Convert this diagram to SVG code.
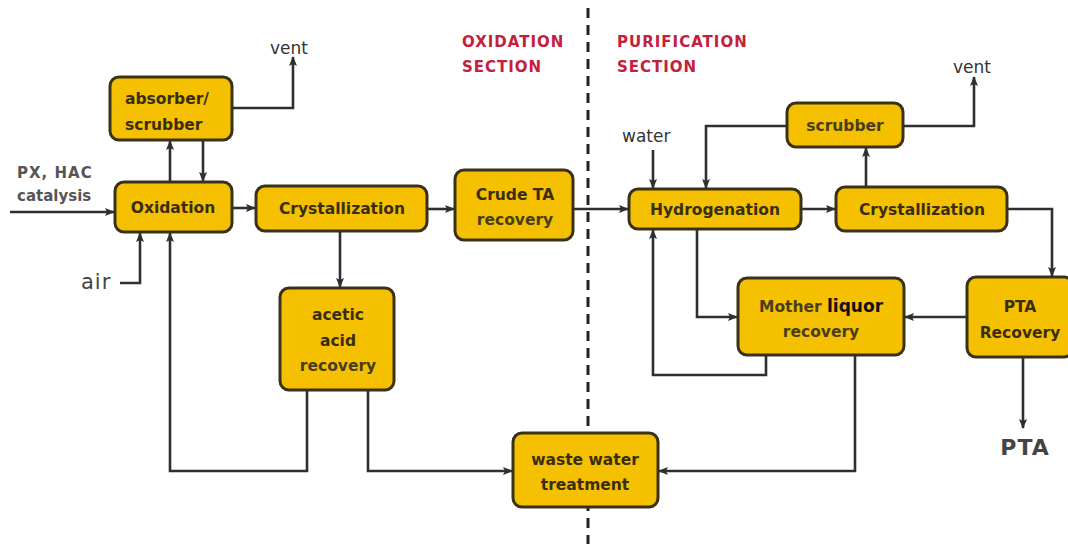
<svg xmlns="http://www.w3.org/2000/svg" width="1068" height="544" viewBox="0 0 1068 544">
<style>
.box{fill:#f4c000;stroke:#3a3218;stroke-width:3}
.lbl{font-family:"DejaVu Sans",sans-serif;font-weight:bold;font-size:15.5px;fill:#3a2e12;text-anchor:middle}
.lbl2{font-family:"DejaVu Sans",sans-serif;font-weight:bold;font-size:15.5px;fill:#4a3d1c;text-anchor:middle}
.ext{font-family:"DejaVu Sans",sans-serif;font-size:17px;fill:#333}
.sec{font-family:"DejaVu Sans",sans-serif;font-weight:bold;font-size:15px;fill:#c4203c;letter-spacing:1px}
.ln{fill:none;stroke:#2f2f2f;stroke-width:2.6;stroke-linejoin:miter}
.dash{fill:none;stroke:#222;stroke-width:3;stroke-dasharray:10 7}
</style>
<defs>
<marker id="ah" viewBox="0 0 10 10" refX="9" refY="5" markerWidth="10" markerHeight="10" markerUnits="userSpaceOnUse" orient="auto">
<path d="M0,1 L10,5 L0,9 L2,5 z" fill="#2f2f2f"/>
</marker>
</defs>
<rect width="1068" height="544" fill="#fff"/>
<line class="dash" x1="588" y1="8" x2="588" y2="544"/>
<g id="section-labels">
<text class="sec" x="462" y="47">OXIDATION</text>
<text class="sec" x="462" y="72">SECTION</text>
<text class="sec" x="617" y="47">PURIFICATION</text>
<text class="sec" x="617" y="72">SECTION</text>
</g>
<g id="connectors">
<path class="ln" d="M10,212 H114" marker-end="url(#ah)"/>
<path class="ln" d="M232,208 H255" marker-end="url(#ah)"/>
<path class="ln" d="M170,182 V141" marker-end="url(#ah)"/>
<path class="ln" d="M203,140 V181" marker-end="url(#ah)"/>
<path class="ln" d="M232,108 H293 V57" marker-end="url(#ah)"/>
<path class="ln" d="M120,283 H140 V233" marker-end="url(#ah)"/>
<path class="ln" d="M307,390 V471 H170 V233" marker-end="url(#ah)"/>
<path class="ln" d="M340,231 V287" marker-end="url(#ah)"/>
<path class="ln" d="M427,209 H454" marker-end="url(#ah)"/>
<path class="ln" d="M368,390 V471 H512" marker-end="url(#ah)"/>
<path class="ln" d="M573,209 H628" marker-end="url(#ah)"/>
<path class="ln" d="M653,150 V188" marker-end="url(#ah)"/>
<path class="ln" d="M787,126 H706 V188" marker-end="url(#ah)"/>
<path class="ln" d="M903,126 H974 V77" marker-end="url(#ah)"/>
<path class="ln" d="M801,209 H835" marker-end="url(#ah)"/>
<path class="ln" d="M866,187 V148" marker-end="url(#ah)"/>
<path class="ln" d="M1007,209 H1052 V276" marker-end="url(#ah)"/>
<path class="ln" d="M967,317 H905" marker-end="url(#ah)"/>
<path class="ln" d="M697,229 V317 H737" marker-end="url(#ah)"/>
<path class="ln" d="M766,355 V375 H653 V230" marker-end="url(#ah)"/>
<path class="ln" d="M855,355 V471 H659" marker-end="url(#ah)"/>
<path class="ln" d="M1023,357 V428" marker-end="url(#ah)"/>
</g>
<g id="ext-labels">
<text class="ext" x="270" y="54">vent</text>
<text class="ext" x="953" y="73">vent</text>
<text class="ext" x="622" y="142">water</text>
<text x="17" y="178" style="font-family:'DejaVu Sans',sans-serif;font-weight:bold;font-size:15px;fill:#555;letter-spacing:1px">PX, HAC</text>
<text x="17" y="201" style="font-family:'DejaVu Sans',sans-serif;font-weight:bold;font-size:15px;fill:#555">catalysis</text>
<text x="81" y="289" style="font-family:'DejaVu Sans',sans-serif;font-size:21px;fill:#444;letter-spacing:1px">air</text>
<text x="1025" y="455" text-anchor="middle" style="font-family:'DejaVu Sans',sans-serif;font-weight:bold;font-size:22px;fill:#444;letter-spacing:1px">PTA</text>
</g>
<g id="absorber">
<rect class="box" x="110" y="77" width="122" height="63" rx="9"/>
<text class="lbl" x="125" y="104" style="text-anchor:start">absorber/</text>
<text class="lbl" x="125" y="130" style="text-anchor:start">scrubber</text>
</g>
<g id="oxidation">
<rect class="box" x="115" y="182" width="117" height="50" rx="9"/>
<text class="lbl" x="173" y="213">Oxidation</text>
</g>
<g id="crystallization1">
<rect class="box" x="256" y="186" width="171" height="45" rx="9"/>
<text class="lbl" x="342" y="214">Crystallization</text>
</g>
<g id="crude-ta">
<rect class="box" x="455" y="170" width="118" height="70" rx="9"/>
<text class="lbl" x="515" y="200">Crude TA</text>
<text class="lbl2" x="515" y="225">recovery</text>
</g>
<g id="acetic">
<rect class="box" x="280" y="288" width="114" height="102" rx="9"/>
<text class="lbl" x="338" y="320">acetic</text>
<text class="lbl" x="338" y="346">acid</text>
<text class="lbl2" x="338" y="371">recovery</text>
</g>
<g id="waste">
<rect class="box" x="513" y="433" width="145" height="74" rx="9"/>
<text class="lbl" x="585" y="465">waste water</text>
<text class="lbl" x="585" y="490">treatment</text>
</g>
<g id="hydrogenation">
<rect class="box" x="629" y="189" width="172" height="40" rx="9"/>
<text class="lbl" x="715" y="215">Hydrogenation</text>
</g>
<g id="scrubber">
<rect class="box" x="787" y="103" width="116" height="44" rx="9"/>
<text class="lbl2" x="845" y="131">scrubber</text>
</g>
<g id="crystallization2">
<rect class="box" x="836" y="187" width="171" height="44" rx="9"/>
<text class="lbl" x="922" y="215">Crystallization</text>
</g>
<g id="mother">
<rect class="box" x="738" y="278" width="166" height="77" rx="9"/>
<text class="lbl" x="821" y="312"><tspan fill="#4a3d1c">Mother</tspan> <tspan fill="#111" font-size="17">liquor</tspan></text>
<text class="lbl2" x="821" y="337">recovery</text>
</g>
<g id="pta-recovery">
<rect class="box" x="967" y="277" width="106" height="80" rx="9"/>
<text class="lbl" x="1020" y="312">PTA</text>
<text class="lbl" x="1020" y="338">Recovery</text>
</g>
</svg>
